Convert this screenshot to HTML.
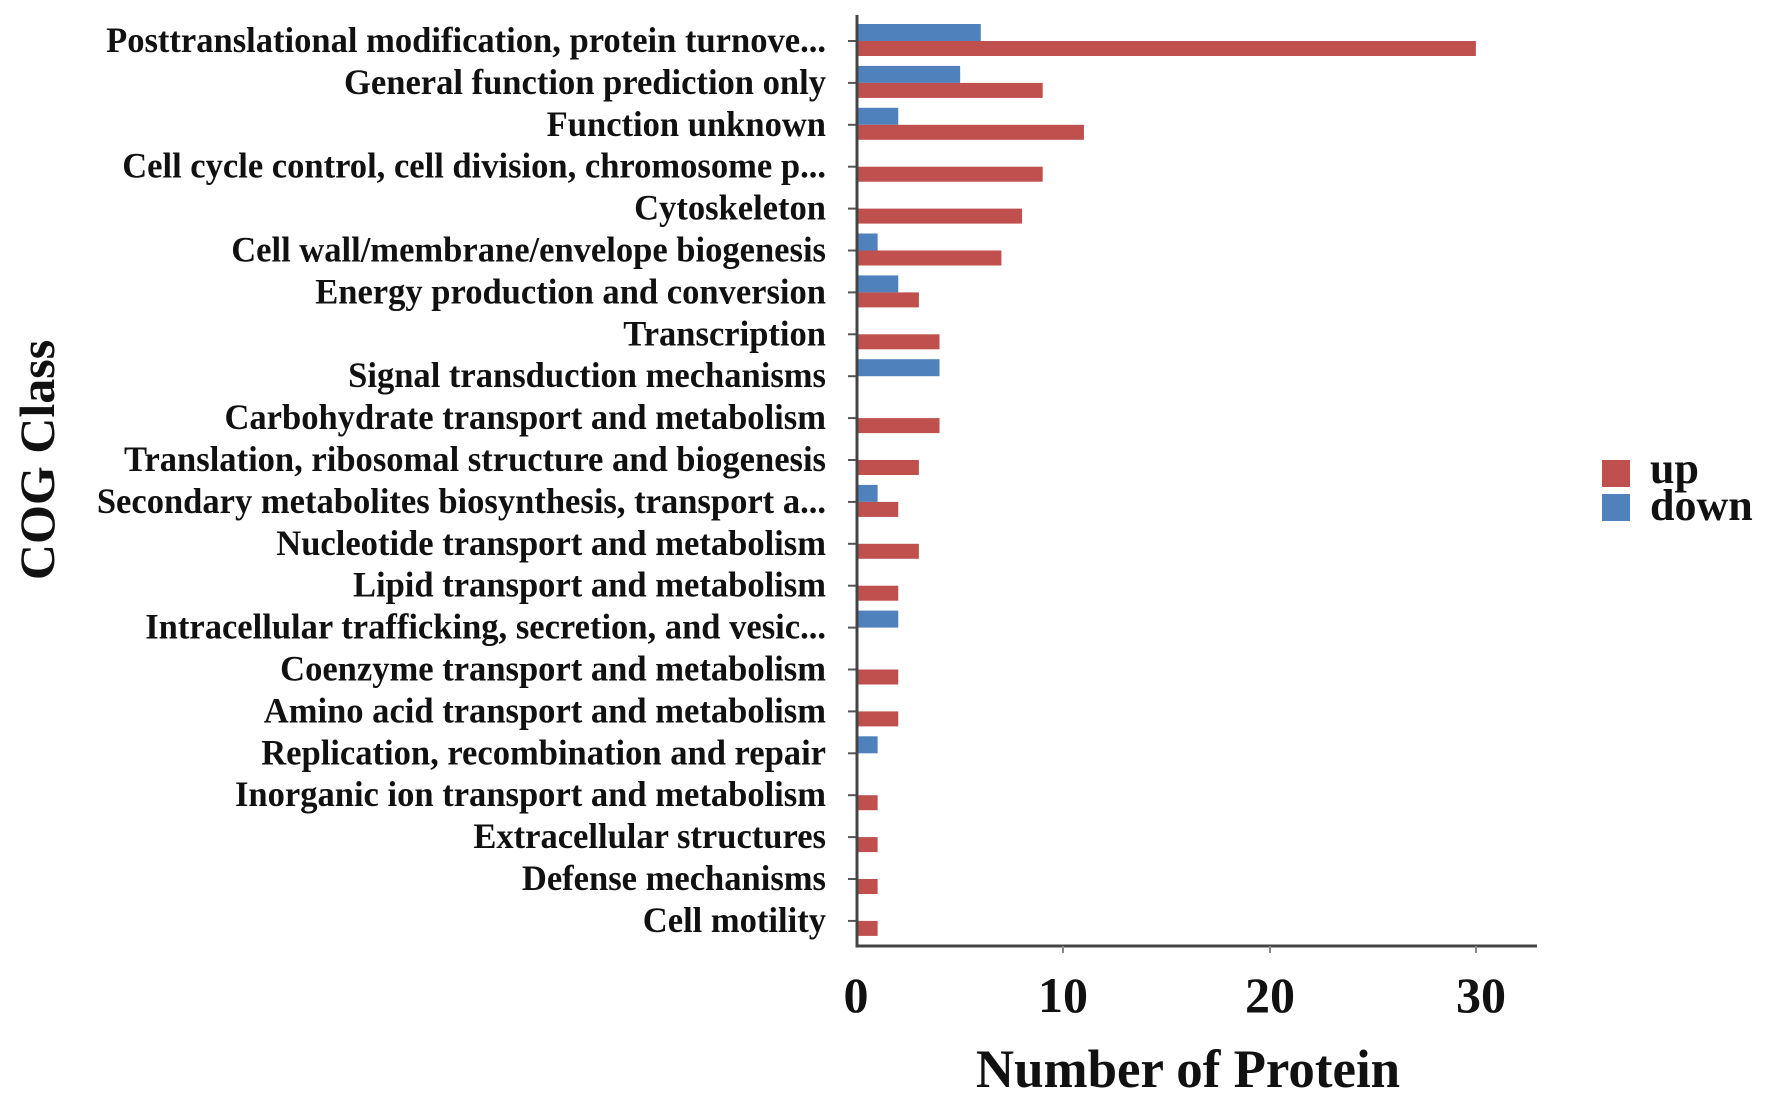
<!DOCTYPE html>
<html><head><meta charset="utf-8"><style>
html,body{margin:0;padding:0;background:#fff}
svg{display:block}
text{font-family:"Liberation Serif",serif;font-weight:bold;fill:#111}
</style></head><body>
<svg width="1772" height="1096" viewBox="0 0 1772 1096" xmlns="http://www.w3.org/2000/svg">
<g id="bars"></g>
<line x1="857" y1="15" x2="857" y2="947" stroke="#444" stroke-width="3"/>
<line x1="855.5" y1="946" x2="1537" y2="946" stroke="#444" stroke-width="3"/>
<g stroke="#888" stroke-width="2">
<line x1="1063" y1="946" x2="1063" y2="953"/><line x1="1270" y1="946" x2="1270" y2="953"/><line x1="1476" y1="946" x2="1476" y2="953"/>
</g>
<g font-size="50" text-anchor="middle">
<text x="856" y="1012">0</text><text x="1063" y="1012">10</text><text x="1270" y="1012">20</text><text x="1481" y="1012">30</text>
</g>
<text x="0" y="0" font-size="54" text-anchor="middle" transform="translate(1188,1087) scale(0.98,1)">Number of Protein</text>
<text transform="translate(54,460) rotate(-90)" font-size="50" text-anchor="middle">COG Class</text>
<rect x="1602" y="460" width="28" height="27" fill="#c0504d"/>
<rect x="1602" y="494" width="28" height="27" fill="#4f81bd"/>
<text x="1650" y="483" font-size="44">up</text>
<text x="1650" y="520" font-size="44">down</text>
<g id="labels" font-size="36" text-anchor="end"></g>
<script>
var d=[["Posttranslational modification, protein turnove...",30,6],["General function prediction only",9,5],["Function unknown",11,2],["Cell cycle control, cell division, chromosome p...",9,0],["Cytoskeleton",8,0],["Cell wall/membrane/envelope biogenesis",7,1],["Energy production and conversion",3,2],["Transcription",4,0],["Signal transduction mechanisms",0,4],["Carbohydrate transport and metabolism",4,0],["Translation, ribosomal structure and biogenesis",3,0],["Secondary metabolites biosynthesis, transport a...",2,1],["Nucleotide transport and metabolism",3,0],["Lipid transport and metabolism",2,0],["Intracellular trafficking, secretion, and vesic...",0,2],["Coenzyme transport and metabolism",2,0],["Amino acid transport and metabolism",2,0],["Replication, recombination and repair",0,1],["Inorganic ion transport and metabolism",1,0],["Extracellular structures",1,0],["Defense mechanisms",1,0],["Cell motility",1,0]];
var ns="http://www.w3.org/2000/svg",b=document.getElementById("bars"),l=document.getElementById("labels"),u=20.63;
d.forEach(function(r,i){var t=41+i*41.9;
if(r[2]){var e=document.createElementNS(ns,"rect");e.setAttribute("x",857);e.setAttribute("y",t-17);e.setAttribute("width",r[2]*u);e.setAttribute("height",17);e.setAttribute("fill","#4f81bd");b.appendChild(e);}
if(r[1]){var e=document.createElementNS(ns,"rect");e.setAttribute("x",857);e.setAttribute("y",t);e.setAttribute("width",r[1]*u);e.setAttribute("height",15);e.setAttribute("fill","#c0504d");b.appendChild(e);}
var k=document.createElementNS(ns,"line");k.setAttribute("x1",848);k.setAttribute("x2",857);k.setAttribute("y1",t);k.setAttribute("y2",t);k.setAttribute("stroke","#555");k.setAttribute("stroke-width",2);b.appendChild(k);
var x=document.createElementNS(ns,"text");x.setAttribute("transform","translate(826,"+(t+11)+") scale(0.96,1)");x.textContent=r[0];l.appendChild(x);});
</script>
</svg>
</body></html>
